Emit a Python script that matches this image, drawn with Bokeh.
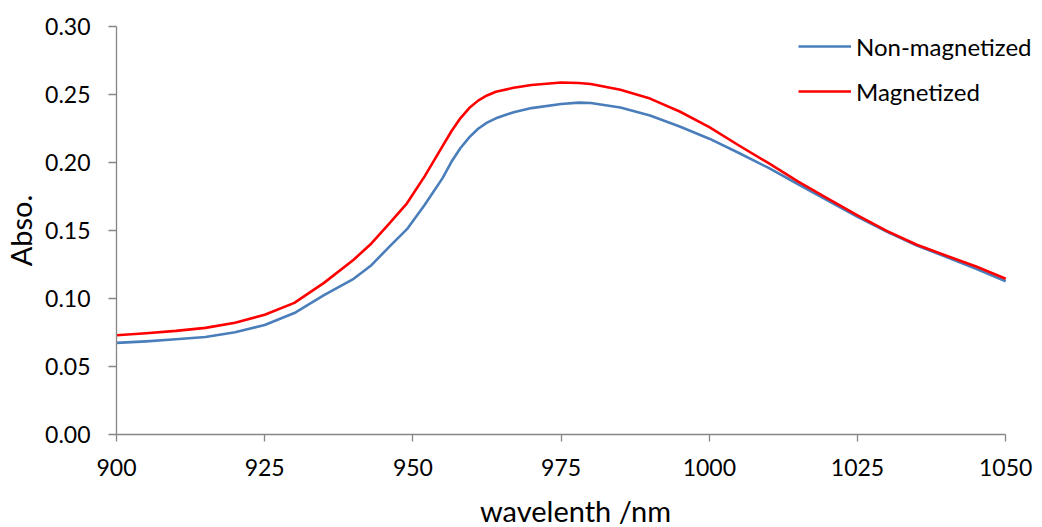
from bokeh.plotting import figure
from bokeh.models import Range1d, FixedTicker, Legend, LegendItem, CustomJSTickFormatter
from bokeh.embed import file_html
from bokeh.resources import INLINE

wavelength = [900, 905, 910, 915, 920, 925, 930, 935, 940, 943, 946, 949, 952, 955, 956.5,
              958, 959.5, 961, 962.5, 964, 967, 970, 975, 978, 980, 985, 990, 995, 1000,
              1005, 1010, 1015, 1020, 1025, 1030, 1035, 1040, 1045, 1050]
non_magnetized = [0.0674, 0.0685, 0.0700, 0.0717, 0.0752, 0.0805, 0.0893, 0.1025, 0.1145,
                  0.1245, 0.1380, 0.1510, 0.1690, 0.1885, 0.2005, 0.2105, 0.2185, 0.2248,
                  0.2293, 0.2325, 0.2370, 0.2400, 0.2430, 0.2440, 0.2438, 0.2405, 0.2345,
                  0.2265, 0.2175, 0.2070, 0.1960, 0.1840, 0.1720, 0.1600, 0.1490, 0.1390,
                  0.1305, 0.1218, 0.1127]
magnetized = [0.0730, 0.0745, 0.0762, 0.0784, 0.0822, 0.0880, 0.0968, 0.1115, 0.1285,
              0.1405, 0.1550, 0.1700, 0.1900, 0.2120, 0.2230, 0.2325, 0.2400, 0.2455,
              0.2493, 0.2520, 0.2550, 0.2570, 0.2588, 0.2585, 0.2577, 0.2535, 0.2470,
              0.2375, 0.2260, 0.2125, 0.1995, 0.1860, 0.1735, 0.1612, 0.1495, 0.1395,
              0.1315, 0.1235, 0.1145]
x_ticks = [900, 925, 950, 975, 1000, 1025, 1050]
y_ticks = [0.00, 0.05, 0.10, 0.15, 0.20, 0.25, 0.30]

FONT = "Lato"
AXIS_COLOR = "#868686"

W = 1034
LEFT = 109
# frame spans 900..1050 over 896px; extend range to the right edge so the legend fits
px_per_nm = 896 / 150
x_end = 900 + (W - LEFT) / px_per_nm

p = figure(width=W, height=540, output_backend="svg", toolbar_location=None,
           x_range=Range1d(900, x_end), y_range=Range1d(0, 0.30))
p.min_border_left = LEFT
p.min_border_right = 0
p.min_border_top = 26
p.min_border_bottom = 106
p.outline_line_color = None
p.xgrid.grid_line_color = None
p.ygrid.grid_line_color = None
p.background_fill_color = "white"
p.border_fill_color = "white"

r1 = p.line(wavelength, non_magnetized, line_color="#4A7EBB", line_width=2.6,
            line_join="round")
r2 = p.line(wavelength, magnetized, line_color="#FF0000", line_width=2.6,
            line_join="round")

for ax in (p.xaxis[0], p.yaxis[0]):
    ax.axis_line_color = AXIS_COLOR
    ax.axis_line_width = 1.3
    ax.major_tick_line_color = AXIS_COLOR
    ax.major_tick_line_width = 1.3
    ax.major_tick_in = 0
    ax.minor_tick_line_color = None
    ax.major_label_text_font = FONT
    ax.major_label_text_font_size = "23px"
    ax.major_label_text_color = "black"
    ax.axis_label_text_font = FONT
    ax.axis_label_text_font_style = "normal"
    ax.axis_label_text_color = "black"
    ax.axis_label_text_font_size = "29px"

p.xaxis.bounds = (900, 1050)
p.xaxis.ticker = FixedTicker(ticks=x_ticks)
p.yaxis.ticker = FixedTicker(ticks=y_ticks)
p.yaxis.formatter = CustomJSTickFormatter(code="return tick.toFixed(2);")
p.xaxis.major_tick_out = 7
p.yaxis.major_tick_out = 8
p.xaxis.major_label_standoff = 17
p.yaxis.major_label_standoff = 18
p.xaxis.axis_label = "wavelenth /nm"
p.yaxis.axis_label = "Abso."
p.xaxis.axis_label_standoff = 14
p.yaxis.axis_label_standoff = 4

legend = Legend(items=[LegendItem(label="Non-magnetized", renderers=[r1]),
                       LegendItem(label="Magnetized", renderers=[r2])],
                location=(682, 328), border_line_color=None, background_fill_alpha=0,
                padding=0, margin=0, spacing=15, glyph_width=53, glyph_height=30,
                label_height=30, label_standoff=5,
                label_text_font=FONT, label_text_font_size="24px",
                label_text_color="black")
p.add_layout(legend, "center")

open("out.html", "w").write(file_html(p, INLINE))
